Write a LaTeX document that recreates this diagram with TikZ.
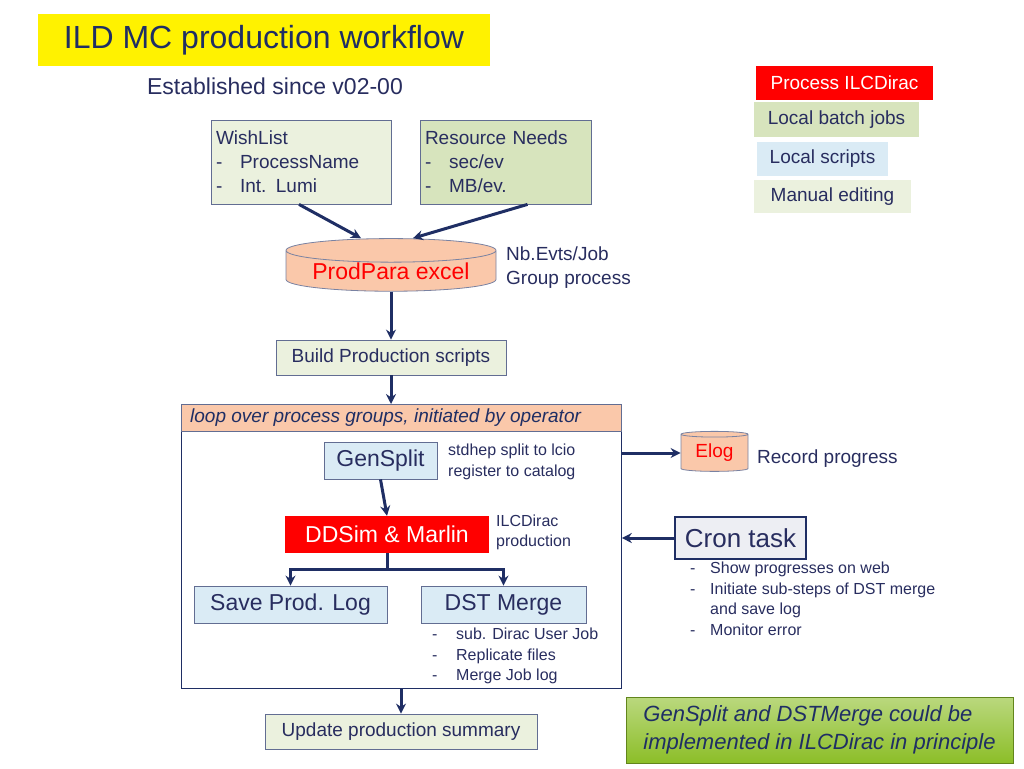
\documentclass[tikz,border=0pt]{standalone}
\usepackage{fontspec}
\setmainfont{Liberation Sans}
\usetikzlibrary{shapes.geometric,arrows.meta,calc}
\definecolor{navy}{RGB}{31,46,100}
\definecolor{txt}{RGB}{40,45,95}
\definecolor{paleg}{RGB}{235,241,222}
\definecolor{midg}{RGB}{215,228,189}
\definecolor{paleb}{RGB}{218,235,245}
\definecolor{salmon}{RGB}{250,200,170}
\definecolor{olive}{RGB}{140,190,40}
\newcommand{\itm}{\makebox[24pt][l]{-}}
\tikzset{
  f14/.style={font=\fontsize{16}{20.5}\selectfont},
  f18/.style={font=\fontsize{19}{24}\selectfont},
  f22/.style={font=\fontsize{23}{26}\selectfont},
  box/.style={draw=navy!70, line width=0.8pt, inner sep=0pt, text=txt},
  link/.style={draw=navy, line width=3pt, -{Stealth[length=10pt,width=10pt]}},
  db/.style={cylinder, shape border rotate=90, draw=navy!60, aspect=0.15, fill=salmon, line width=0.8pt, inner sep=0pt},
  note/.style={anchor=west, text=txt, align=left, inner sep=0pt}
}
\begin{document}
\begin{tikzpicture}[x=1pt,y=-1pt]
\useasboundingbox (0,0) rectangle (1024,768);
% title and legend
\node[fill=yellow, minimum width=452, minimum height=52, text=navy, font=\fontsize{32}{36}\selectfont] (title) at (264,40) {ILD MC production workflow};
\node[text=txt, f22] (since) at (275,86) {Established since v02-00};
\node[fill=red, text=white, minimum width=177, minimum height=34, f18] (lred) at (844.5,83) {Process ILCDirac};
\node[fill=midg, text=txt, minimum width=165, minimum height=35, f18] (lgreen) at (836.5,119.5) {Local batch jobs};
\node[fill=paleb, text=txt, minimum width=131, minimum height=34, f18] (lblue) at (822.5,159) {Local scripts};
\node[fill=paleg, text=txt, minimum width=157, minimum height=33, f18] (lpale) at (832.5,196.5) {Manual editing};
% inputs
\node[box, fill=paleg, minimum width=180, minimum height=84, f18, align=left, text width=170] (wish) at (301,162) {WishList\\\itm ProcessName\\\itm Int. Lumi};
\node[box, fill=midg, minimum width=171, minimum height=84, f18, align=left, text width=161] (res) at (505.5,162) {Resource Needs\\\itm sec/ev\\\itm MB/ev.};
\node[db, minimum width=210, minimum height=48, text=red, f22] (prod) at (391,271) {\raisebox{-14pt}{ProdPara excel}};
\node[note, f18] (prodnote) at (506,268) {Nb.Evts/Job\\Group process};
\draw[link] (wish.south) ++(-2,0) -- ($(prod.north)+(-30,0)$);
\draw[link] (res.south) ++(22,0) -- ($(prod.north)+(22,0)$);
\node[box, fill=paleg, minimum width=230, minimum height=35, f18] (build) at (391,357.5) {Build Production scripts};
\draw[link] (prod.south) -- (build.north);
% loop frame
\node[draw=navy, line width=0.8pt, minimum width=440, minimum height=284, anchor=north west, inner sep=0pt] (frame) at (181,404) {};
\node[draw=navy!70, fill=salmon, minimum width=440, minimum height=27, anchor=north west, inner sep=0pt, f18] (loop) at (181,404) {};
\node[note, text=navy, f18] at (190,418) {\itshape loop over process groups, initiated by operator};
\draw[link] (build.south) -- (build.south |- loop.north);
% steps
\node[box, fill=paleb, minimum width=113, minimum height=37, f22] (gen) at (380.5,460.5) {GenSplit};
\node[note, f14] (gennote) at (448,462) {stdhep split to lcio\\register to catalog};
\node[fill=red, text=white, minimum width=204, minimum height=37, f22] (ddsim) at (387,534.5) {DDSim \& Marlin};
\node[note, f14] (ddnote) at (496,532.5) {ILCDirac\\production};
\draw[link] (gen.south) -- (ddsim.north);
\node[box, fill=paleb, minimum width=193, minimum height=37, f22] (save) at (290.5,604.5) {Save Prod. Log};
\node[box, fill=paleb, minimum width=165, minimum height=37, f22] (dst) at (503.5,604.5) {DST Merge};
\node[note, f14] (dstnote) at (432,656) {\itm sub. Dirac User Job\\\itm Replicate files\\\itm Merge Job log};
\coordinate (split) at ($(ddsim.south)+(0,16)$);
\draw[navy, line width=3pt] (ddsim.south) -- (split);
\draw[link] (split) -| (save.north);
\draw[link] (split) -| (dst.north);
% side
\node[db, minimum width=67, minimum height=40, text=red, f18] (elog) at (714.5,453) {\raisebox{-10pt}{Elog}};
\node[note, f18] (elognote) at (757,459) {Record progress};
\draw[link] (frame.east |- elog.west) -- (elog.west);
\node[draw=navy, line width=1.5pt, fill=navy!8, minimum width=131, minimum height=42, text=txt, font=\fontsize{26}{30}\selectfont] (cron) at (740.5,538) {Cron task};
\draw[link] (cron.west) -- (frame.east |- cron.west);
\node[note, f14, anchor=north west] (cronnote) at (690,562) {\makebox[20pt][l]{-}Show progresses on web\\\makebox[20pt][l]{-}Initiate sub-steps of DST merge\\\makebox[20pt][l]{}and save log\\\makebox[20pt][l]{-}Monitor error};
% bottom
\node[box, fill=paleg, minimum width=272, minimum height=35, f18] (update) at (401,731.5) {Update production summary};
\draw[link] (frame.south -| update.north) -- (update.north);
\node[draw=olive!70!black, top color=olive!60, bottom color=olive, minimum width=387, minimum height=66, text=navy, align=left, font=\fontsize{22}{28}\selectfont\itshape] (remark) at (819.5,730) {GenSplit and DSTMerge could be\\implemented in ILCDirac in principle};
\end{tikzpicture}
\end{document}
